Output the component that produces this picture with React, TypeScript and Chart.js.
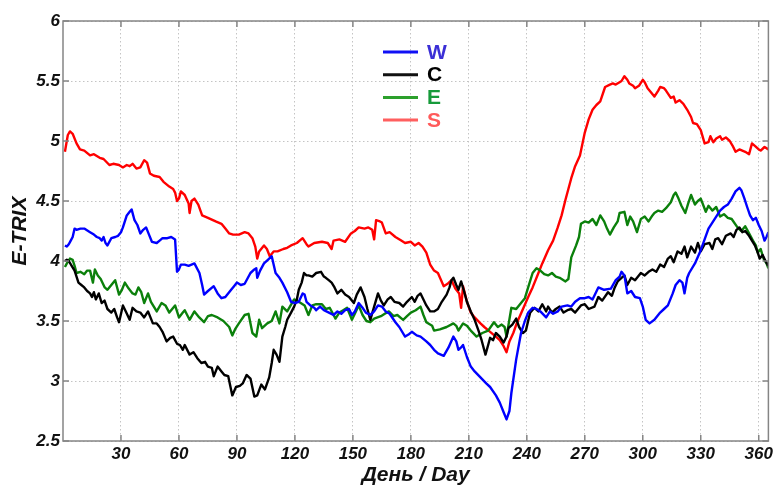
import React, { useEffect, useRef } from "react";
import { Chart, registerables } from "chart.js";

Chart.register(...registerables);

// ---- data (day, E-TRIX) ----
const seriesLabels = ["W", "C", "E", "S"];
const lineColors = ["#0000ff", "#000000", "#0b800b", "#ff0000"];
const legendLineColors = ["#1010f5", "#111111", "#2ca02c", "#ff5f5f"];
const legendTextColors = ["#3b2fd6", "#000000", "#169a3a", "#ff5a5a"];
const xTicks = [30, 60, 90, 120, 150, 180, 210, 240, 270, 300, 330, 360];
const yTicks = [2.5, 3, 3.5, 4, 4.5, 5, 5.5, 6];

const seriesW: [number, number][] = [
  [1,4.13],[2,4.12],[3,4.14],[4,4.17],[5,4.20],[6,4.27],[7,4.26],[9,4.27],[11,4.27],[13,4.25],
  [14,4.24],[16,4.22],[17.5,4.20],[19,4.19],[20,4.17],[21,4.20],[22,4.15],[23,4.13],[25,4.19],[27,4.20],
  [28.5,4.21],[30,4.24],[31,4.28],[33,4.38],[34.5,4.41],[35.5,4.43],[37,4.34],[38.5,4.30],[40,4.23],[41.5,4.26],
  [43,4.28],[44.5,4.22],[46,4.16],[48.5,4.15],[50,4.17],[51.5,4.19],[54,4.19],[56,4.20],[57,4.19],[58,4.18],
  [59,3.91],[60,3.93],[61,3.97],[63,3.97],[65,3.96],[68,3.98],[70.6,3.90],[72,3.80],[73,3.72],[75,3.75],
  [78,3.79],[80,3.73],[82,3.69],[84,3.70],[87,3.76],[88.5,3.79],[90,3.82],[92,3.80],[94,3.81],[97,3.90],
  [99,3.93],[100,3.94],[100.5,3.86],[102,3.92],[104,3.98],[106,4.01],[108,4.04],[110,3.90],[112,3.86],[113.5,3.82],
  [116,3.74],[118,3.66],[120,3.65],[122,3.66],[124,3.73],[125,3.72],[126,3.66],[128,3.63],[130,3.61],[131,3.59],
  [133,3.62],[135,3.59],[137.6,3.57],[140,3.55],[142,3.58],[144,3.56],[146,3.59],[148,3.60],[149.5,3.55],[151,3.58],
  [153,3.65],[155,3.61],[156.7,3.57],[159,3.55],[161,3.58],[163,3.63],[165,3.62],[167,3.58],[169,3.56],[172,3.49],
  [174,3.45],[177,3.37],[179,3.39],[180.5,3.41],[183,3.38],[185,3.37],[188,3.33],[190,3.30],[192,3.26],[194,3.23],
  [197,3.21],[199.5,3.28],[202,3.37],[203.5,3.33],[204.6,3.26],[206,3.28],[207,3.30],[209,3.20],[211,3.12],[213,3.08],
  [216,3.03],[219,2.98],[221,2.95],[224,2.88],[226,2.82],[228,2.74],[229.5,2.68],[231,2.75],[232,2.90],[234.5,3.18],
  [237,3.40],[239,3.50],[240.7,3.57],[243,3.61],[245,3.60],[247,3.58],[250,3.53],[252,3.58],[253.6,3.56],[256,3.58],
  [258,3.62],[261,3.63],[263,3.62],[265,3.66],[267.5,3.69],[270,3.69],[272,3.70],[274,3.68],[277,3.78],[280,3.76],
  [283.5,3.77],[286,3.84],[288,3.87],[289,3.91],[290.5,3.88],[292,3.73],[294,3.75],[296,3.70],[298.5,3.69],[300,3.62],
  [301.5,3.51],[303.5,3.48],[306,3.51],[309,3.57],[311,3.60],[313,3.63],[315.5,3.73],[317,3.80],[319,3.84],[320.5,3.82],
  [321.6,3.73],[323,3.86],[324,3.90],[327,3.98],[330,4.09],[332,4.18],[334,4.27],[336,4.32],[338,4.37],[340,4.42],
  [342,4.45],[344,4.47],[346,4.52],[348,4.58],[350,4.61],[351,4.59],[352.6,4.52],[354,4.45],[355.5,4.38],[357,4.34],
  [358.5,4.36],[360,4.30],[361.5,4.25],[363,4.17],[364,4.20],[365,4.24],
];

const seriesC: [number, number][] = [
  [1,4.00],[2,4.01],[3,4.00],[4.5,3.96],[6,3.92],[8,3.82],[9.5,3.80],[11,3.78],[12.5,3.75],[14,3.73],
  [15,3.70],[16,3.74],[17,3.68],[18.5,3.73],[20,3.65],[21.5,3.67],[23,3.60],[25,3.57],[26.5,3.60],[28,3.53],
  [29,3.49],[31,3.63],[32.5,3.58],[34.5,3.51],[36,3.61],[38,3.58],[40,3.57],[42,3.53],[44,3.58],[46.5,3.48],
  [48.5,3.48],[50,3.45],[51.5,3.41],[53.6,3.33],[55.5,3.36],[57,3.37],[59,3.31],[60.5,3.30],[62,3.26],[63,3.30],
  [65.5,3.22],[67.5,3.24],[69.5,3.19],[71.6,3.15],[73.5,3.16],[75,3.12],[77,3.11],[78,3.04],[80,3.12],[82,3.08],
  [83.5,3.05],[85.5,3.04],[87.6,2.88],[89.5,2.95],[91.5,2.96],[93,2.98],[95,3.05],[97,3.02],[99,2.87],[100.5,2.88],
  [102.6,2.97],[104.5,2.93],[106.7,3.03],[108,3.15],[109,3.26],[110.5,3.22],[112,3.16],[113.5,3.37],[115,3.45],[116,3.51],
  [118,3.57],[119.6,3.62],[121,3.68],[122,3.76],[123.5,3.82],[124.7,3.90],[126,3.88],[127,3.88],[129,3.87],[131,3.90],
  [133.5,3.91],[135,3.87],[136,3.86],[137.5,3.84],[139,3.82],[140.5,3.78],[142,3.73],[144,3.76],[146,3.72],[148,3.70],
  [150.5,3.65],[152,3.72],[154,3.78],[156,3.70],[157.5,3.60],[159,3.51],[161,3.62],[163,3.73],[164.5,3.67],[166,3.63],
  [168,3.68],[169.6,3.70],[171.5,3.66],[174,3.65],[176,3.62],[178,3.66],[180.5,3.70],[182,3.66],[183.5,3.71],[185,3.73],
  [186.5,3.68],[188,3.63],[190,3.58],[192,3.58],[194,3.60],[196,3.66],[198.5,3.72],[200,3.78],[201,3.84],[202,3.86],
  [203.5,3.80],[204.6,3.76],[206,3.83],[207.5,3.75],[209,3.66],[211,3.58],[213,3.51],[215,3.42],[216.6,3.34],[218.6,3.22],
  [220,3.30],[221,3.36],[222.5,3.34],[224,3.40],[226,3.37],[228,3.32],[229.5,3.37],[230.5,3.44],[232.5,3.47],[234.5,3.52],
  [236,3.45],[238,3.40],[239.5,3.42],[241.7,3.57],[244,3.61],[246,3.58],[248,3.64],[250,3.58],[251,3.62],[253,3.57],
  [255,3.60],[257,3.62],[259,3.57],[261,3.59],[263,3.60],[265,3.57],[268,3.63],[270,3.64],[272,3.60],[275,3.62],
  [277,3.70],[279,3.67],[282,3.74],[284,3.71],[285.5,3.78],[287,3.83],[289,3.86],[290.5,3.88],[292,3.80],[294,3.86],
  [296,3.84],[299,3.90],[301,3.88],[303,3.91],[305,3.93],[307,3.91],[309,3.97],[311,3.95],[313,4.02],[314.5,4.04],
  [316,3.99],[318,4.08],[320,4.06],[321.6,4.12],[323,4.03],[325,4.12],[327,4.07],[328.5,4.15],[330,4.08],[332,4.14],
  [334.5,4.15],[336,4.10],[337.5,4.18],[339,4.19],[341,4.14],[343,4.21],[345.5,4.23],[347,4.20],[348.5,4.26],[350,4.28],
  [351.5,4.24],[353,4.25],[355,4.21],[356.5,4.17],[358,4.13],[359.5,4.07],[360.5,4.02],[362,4.05],[363.5,4.00],[365,3.96],
];

const seriesE: [number, number][] = [
  [1,3.95],[2,3.98],[3.6,4.02],[5,4.01],[6,3.96],[7,3.90],[9,3.91],[11,3.89],[12.5,3.92],[14,3.92],
  [15.5,3.82],[16.5,3.93],[18,3.88],[19.5,3.85],[21.6,3.78],[23,3.76],[25,3.80],[27,3.84],[29,3.72],[30.5,3.76],
  [32,3.82],[34,3.77],[36,3.73],[37.5,3.72],[39,3.78],[40.5,3.74],[42,3.65],[44,3.73],[45.5,3.66],[47,3.62],
  [48.5,3.58],[51,3.65],[53,3.63],[55,3.57],[56.5,3.60],[58,3.63],[60,3.53],[62,3.57],[63,3.59],[65.5,3.51],
  [68,3.58],[70.5,3.53],[73,3.49],[75,3.54],[77,3.55],[80,3.53],[83,3.50],[86,3.45],[87.6,3.38],[89,3.43],
  [91,3.48],[94,3.55],[96,3.56],[98,3.40],[100,3.37],[101.5,3.51],[103,3.44],[105.7,3.48],[108,3.50],[110,3.58],
  [112,3.48],[113.5,3.62],[116,3.58],[119.6,3.68],[122,3.66],[125,3.63],[127,3.55],[129,3.63],[131,3.64],[134,3.64],
  [136,3.60],[138,3.61],[141,3.52],[143,3.57],[145,3.59],[147,3.61],[149.5,3.51],[151,3.56],[153,3.63],[155,3.55],
  [157,3.50],[159,3.49],[161,3.52],[164.5,3.54],[166.5,3.56],[168.6,3.58],[171,3.54],[173,3.55],[176,3.51],[178,3.54],
  [180,3.57],[182.5,3.59],[185,3.62],[186.5,3.55],[188,3.49],[191,3.46],[192,3.42],[195,3.43],[198.5,3.45],[202,3.48],
  [203.5,3.46],[204.6,3.42],[207,3.48],[209,3.46],[211,3.42],[214,3.37],[217,3.40],[220,3.42],[223,3.49],[225,3.45],
  [227,3.47],[228.5,3.45],[229.5,3.37],[232,3.61],[234.5,3.60],[237,3.65],[239,3.69],[240.7,3.78],[243,3.90],[245,3.94],
  [247,3.92],[249,3.89],[251,3.88],[253,3.90],[255,3.87],[257,3.86],[259,3.84],[260,3.83],[261.5,3.85],[263,4.03],
  [265.5,4.13],[267,4.20],[268,4.31],[270,4.33],[272,4.32],[274,4.35],[276,4.30],[278,4.38],[280,4.33],[281.5,4.27],
  [283,4.22],[285,4.28],[287,4.33],[288,4.40],[290.5,4.41],[292,4.30],[293.5,4.37],[295,4.33],[297,4.24],[299,4.35],
  [301,4.37],[303,4.33],[305,4.38],[306,4.40],[308,4.42],[310,4.41],[312,4.44],[314.5,4.49],[316,4.55],[317,4.57],
  [318.5,4.52],[320,4.46],[322,4.40],[323.5,4.48],[325,4.55],[327,4.47],[328.5,4.50],[330,4.52],[332.6,4.41],[334,4.46],
  [336,4.42],[338,4.45],[340,4.37],[342,4.39],[344,4.36],[346,4.35],[349,4.28],[351,4.25],[353,4.29],[355,4.23],
  [357,4.17],[358.5,4.13],[359.5,4.07],[361,4.10],[362.5,4.02],[364,3.98],[365,3.94],
];

const seriesS: [number, number][] = [
  [1,4.91],[2.5,5.05],[3.6,5.08],[5,5.06],[7,4.98],[8.8,4.93],[11,4.92],[14,4.88],[16,4.89],[19,4.86],
  [21,4.85],[24,4.80],[26,4.81],[29,4.80],[31,4.78],[33,4.80],[34.5,4.79],[36,4.81],[38,4.77],[40,4.78],
  [42,4.84],[43.5,4.82],[45,4.73],[47,4.71],[50,4.70],[52,4.66],[55,4.62],[57,4.60],[58,4.57],[59,4.50],
  [60,4.52],[61,4.58],[63,4.55],[65,4.48],[65.5,4.40],[66.5,4.50],[68,4.52],[70,4.47],[72,4.38],[75,4.36],
  [79,4.33],[82,4.31],[84,4.27],[86,4.23],[88,4.22],[91,4.22],[94,4.24],[96,4.23],[98,4.19],[99.5,4.12],
  [100.5,4.02],[101.5,4.08],[104,4.13],[105.5,4.10],[107,4.04],[109,4.08],[111,4.08],[114,4.10],[116,4.11],[118,4.13],
  [121,4.15],[124,4.19],[126,4.14],[127,4.12],[130,4.15],[134,4.16],[137,4.15],[139,4.10],[140,4.17],[143,4.18],
  [146,4.16],[149,4.23],[151,4.25],[153,4.28],[156,4.27],[158,4.28],[160,4.26],[161,4.18],[162,4.34],[164,4.33],
  [165,4.32],[167,4.23],[169,4.24],[172,4.20],[175,4.17],[177,4.15],[180,4.16],[182,4.13],[184,4.15],[186,4.12],
  [188,4.07],[190,3.97],[192,3.92],[194,3.90],[197,3.79],[199,3.81],[201,3.84],[203,3.77],[205,3.73],[206,3.61],
  [207,3.79],[209,3.66],[211,3.57],[213,3.53],[216,3.48],[218,3.45],[221,3.41],[224,3.37],[226,3.34],[228,3.29],
  [229.5,3.24],[231,3.33],[233,3.40],[235,3.49],[238,3.60],[241,3.71],[243,3.78],[246,3.90],[248,3.98],[251,4.09],
  [253.6,4.17],[256,4.28],[258,4.38],[260,4.51],[263,4.69],[265,4.79],[267.5,4.88],[270,5.07],[272,5.18],[274,5.26],
  [276,5.30],[278,5.33],[280.5,5.45],[283,5.47],[284.5,5.48],[286,5.47],[288,5.49],[289,5.50],[290.5,5.54],[292,5.51],
  [293,5.48],[295,5.46],[296,5.44],[298,5.46],[300,5.51],[301,5.49],[302.5,5.44],[304,5.41],[306,5.37],[308,5.42],
  [309,5.45],[311,5.44],[312,5.42],[314.5,5.36],[316,5.37],[317,5.32],[319,5.34],[321,5.31],[323,5.26],[325,5.20],
  [326,5.15],[328,5.14],[330,5.09],[332,4.98],[334,4.99],[335,5.04],[336.5,4.99],[338,5.02],[340,5.04],[341,5.01],
  [343,5.03],[345,5.00],[346.5,4.96],[348,4.91],[350,4.93],[351.5,4.92],[353,4.91],[355,4.89],[356.5,4.98],[358,4.96],
  [360,4.93],[361,4.92],[363,4.95],[365,4.93],
];

const allSeries = [seriesW, seriesC, seriesE, seriesS];

const FONT = "'Liberation Sans', Arial, Helvetica, sans-serif";

const framePlugin = {
  id: "matlabFrame",
  afterDatasetsDraw(chart: any) {
    const { ctx, chartArea: a, scales } = chart;
    ctx.save();
    // box
    ctx.strokeStyle = "#858585";
    ctx.lineWidth = 1.5;
    ctx.strokeRect(a.left, a.top, a.right - a.left, a.bottom - a.top);
    // inward tick marks
    const t = 6;
    ctx.beginPath();
    xTicks.forEach((v) => {
      const x = scales.x.getPixelForValue(v);
      ctx.moveTo(x, a.bottom);
      ctx.lineTo(x, a.bottom - t);
      ctx.moveTo(x, a.top);
      ctx.lineTo(x, a.top + t);
    });
    yTicks.forEach((v) => {
      const y = scales.y.getPixelForValue(v);
      ctx.moveTo(a.left, y);
      ctx.lineTo(a.left + t, y);
      ctx.moveTo(a.right, y);
      ctx.lineTo(a.right - t, y);
    });
    ctx.stroke();
    // legend
    const lx = a.left + 320;
    const ly = a.top + 31;
    ctx.font = `bold 21px ${FONT}`;
    ctx.textBaseline = "middle";
    ctx.textAlign = "left";
    seriesLabels.forEach((lab, i) => {
      const y = ly + i * 22.7;
      ctx.strokeStyle = legendLineColors[i];
      ctx.lineWidth = 3;
      ctx.beginPath();
      ctx.moveTo(lx, y);
      ctx.lineTo(lx + 35, y);
      ctx.stroke();
      ctx.fillStyle = legendTextColors[i];
      ctx.fillText(lab, lx + 44, y + 1);
    });
    ctx.restore();
  },
};

export default function App() {
  const canvasRef = useRef<HTMLCanvasElement | null>(null);

  useEffect(() => {
    document.body.style.margin = "0";
    document.body.style.background = "#ffffff";
    const canvas = canvasRef.current;
    if (!canvas) return;
    const chart = new Chart(canvas, {
      type: "line",
      data: {
        datasets: allSeries.map((s, i) => ({
          label: seriesLabels[i],
          data: s.map(([x, y]) => ({ x, y })),
          borderColor: lineColors[i],
          backgroundColor: lineColors[i],
          borderWidth: 2.4,
          pointRadius: 0,
          tension: 0,
          borderJoinStyle: "round" as const,
          fill: false,
        })),
      },
      options: {
        animation: false,
        responsive: false,
        devicePixelRatio: 1,
        layout: { padding: { top: 21, right: 6, left: 0, bottom: 0 } },
        plugins: {
          legend: { display: false },
          tooltip: { enabled: false },
        },
        scales: {
          x: {
            type: "linear",
            min: 0,
            max: 365,
            afterBuildTicks: (scale: any) => {
              scale.ticks = xTicks.map((v) => ({ value: v }));
            },
            afterFit: (scale: any) => {
              scale.height = 45;
            },
            grid: { color: "#c4c4c4", lineWidth: 1, drawTicks: false },
            border: { display: false, dash: [1.5, 2.5] },
            ticks: {
              color: "#111111",
              padding: 3,
              maxRotation: 0,
              autoSkip: false,
              callback: (v: any) => String(v),
              font: { family: FONT, size: 17, style: "italic", weight: "bold" },
            },
            title: {
              display: true,
              text: "День / Day",
              color: "#111111",
              padding: { top: 0, bottom: 0 },
              font: { family: FONT, size: 21, style: "italic", weight: "bold", lineHeight: 1 },
            },
          },
          y: {
            type: "linear",
            min: 2.5,
            max: 6,
            afterBuildTicks: (scale: any) => {
              scale.ticks = yTicks.map((v) => ({ value: v }));
            },
            afterFit: (scale: any) => {
              scale.width = 63;
            },
            grid: { color: "#c4c4c4", lineWidth: 1, drawTicks: false },
            border: { display: false, dash: [1.5, 2.5] },
            ticks: {
              color: "#111111",
              padding: 3,
              autoSkip: false,
              callback: (v: any) => String(v),
              font: { family: FONT, size: 17, style: "italic", weight: "bold" },
            },
            title: {
              display: true,
              text: "E-TRIX",
              color: "#111111",
              padding: { top: 10, bottom: 0 },
              font: { family: FONT, size: 21, style: "italic", weight: "bold", lineHeight: 1 },
            },
          },
        },
      },
      plugins: [framePlugin],
    });
    return () => chart.destroy();
  }, []);

  return (
    <div style={{ width: 776, height: 486, background: "#fff" }}>
      <canvas ref={canvasRef} width={776} height={486} />
    </div>
  );
}
